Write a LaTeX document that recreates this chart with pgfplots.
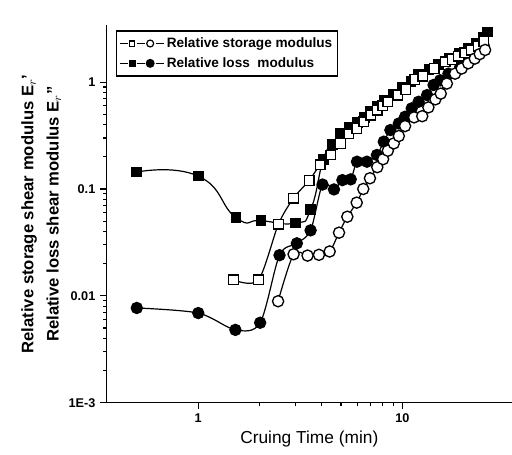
\documentclass[border=0pt]{standalone}
\usepackage{pgfplots}
\pgfplotsset{compat=1.18}
\usepackage{fontspec}
\setmainfont{Liberation Sans}

\begin{document}
\begin{tikzpicture}
\begin{axis}[
  scale only axis,
  width=304pt, height=283pt,
  xmode=log, ymode=log,
  xmin=0.356, xmax=34.4,
  ymin=1e-3, ymax=3.4,
  axis x line=bottom, axis y line=left,
  axis line style={-, line width=1pt},
  tick align=outside,
  major tick length=5pt, minor tick length=2.5pt,
  every tick/.style={black, line width=0.9pt},
  xtick={1,10}, xticklabels={1,10},
  ytick={1e-3,0.01,0.1,1}, yticklabels={1E-3,0.01,0.1,1},
  tick label style={font=\bfseries\fontsize{9.5}{11}\selectfont},
  /pgf/number format/assume math mode=true,
  xlabel={Cruing Time (min)},
  xlabel style={font=\fontsize{13}{15}\selectfont, yshift=1pt},
  ylabel={\begin{tabular}{c}Relative storage shear modulus E$_r$'\\[4pt] Relative loss shear modulus E$_r$''\end{tabular}},
  ylabel style={font=\bfseries\fontsize{12.5}{15}\selectfont, yshift=-4pt},
  legend style={at={(0.022,0.987)}, anchor=north west, draw=black, line width=1pt,
    font=\bfseries\fontsize{10.2}{12}\selectfont, row sep=2pt,
    inner xsep=2pt, inner ysep=3pt},
  legend cell align=left,
  every axis plot/.append style={black, line width=0.9pt, smooth},
]
\coordinate (ll) at (rel axis cs:0,0);
\coordinate (ur) at (rel axis cs:1,1);
% sample A loss (filled squares)
\addplot[mark=square*, mark options={fill=black}, mark size=3.6pt, tension=0.9, forget plot] coordinates {
  (0.5,0.144) (1.0,0.132) (1.53,0.054) (2.03,0.0506) (3.0,0.048) (3.55,0.064)
  (4.1,0.19) (4.54,0.262) (4.98,0.33) (5.5,0.38) (6.0,0.42) (6.5,0.47) (7.0,0.53)
  (7.5,0.59) (8.2,0.67) (9.0,0.76) (10.0,0.89) (11.0,1.02) (12.0,1.17) (13.5,1.32)
  (15.0,1.47) (17.0,1.67) (19.0,1.87) (21.0,2.05) (23.0,2.3) (25.0,2.6) (26.0,2.95)
};
% sample B loss (filled circles)
\addplot[mark=*, mark options={fill=black}, mark size=4.2pt, forget plot] coordinates {
  (0.5,0.0077) (1.0,0.0069) (1.52,0.0048) (2.01,0.0056) (2.5,0.024) (3.04,0.031)
  (3.55,0.041) (4.06,0.11) (4.62,0.099) (5.08,0.121) (5.58,0.123) (5.99,0.18)
  (6.7,0.18) (7.5,0.208) (8.1,0.277) (8.73,0.356) (9.6,0.41) (10.3,0.474)
  (11.1,0.568) (12.0,0.655) (13.2,0.756) (14.2,0.94) (15.3,1.04) (16.8,1.2)
  (19.2,1.39) (21.0,1.6) (23.2,1.85) (25.0,2.2)
};
% sample A storage (open squares)
\addplot[mark=square*, mark options={fill=white, line width=1pt}, mark size=3.6pt, forget plot] coordinates {
  (1.49,0.0141) (1.97,0.0141) (2.47,0.0468) (2.93,0.082) (3.49,0.12) (3.95,0.168)
  (4.45,0.208) (4.98,0.267) (5.47,0.327) (5.97,0.369) (6.47,0.426) (7.0,0.49)
  (7.53,0.547) (8.0,0.60) (8.48,0.655) (9.48,0.756) (10.4,0.855) (11.5,1.06)
  (12.6,1.14) (14.3,1.34) (16.2,1.55) (17.5,1.63) (18.8,1.75) (20.2,1.88)
  (21.8,1.99) (23.5,2.17) (25.0,2.40)
};
% sample B storage (open circles)
\addplot[mark=*, mark options={fill=white, line width=1pt}, mark size=4.2pt, forget plot] coordinates {
  (2.46,0.0089) (2.93,0.0245) (3.43,0.0238) (3.9,0.0242) (4.4,0.026) (4.89,0.039)
  (5.37,0.055) (5.97,0.0745) (6.43,0.100) (6.93,0.126) (7.53,0.160) (8.04,0.190)
  (8.48,0.228) (9.07,0.267) (9.6,0.313) (10.3,0.388) (11.4,0.468) (12.5,0.48)
  (13.4,0.58) (14.5,0.69) (15.4,0.78) (16.5,0.97) (18.1,1.20) (19.5,1.34)
  (21.0,1.50) (22.6,1.66) (23.9,1.83) (25.4,2.00)
};
\addlegendimage{legend image code/.code={
  \draw[black, line width=0.9pt] (0pt,0pt) -- (6pt,0pt) (13pt,0pt) -- (19pt,0pt) (27pt,0pt) -- (33pt,0pt);
  \draw[black, line width=0.9pt, fill=white] (7.5pt,-2.2pt) rectangle (11.5pt,1.8pt);
  \draw[black, line width=0.9pt, fill=white] (23pt,0pt) circle (2.6pt);}}
\addlegendentry{Relative storage modulus}
\addlegendimage{legend image code/.code={
  \draw[black, line width=0.9pt] (0pt,0pt) -- (6pt,0pt) (13pt,0pt) -- (19pt,0pt) (27pt,0pt) -- (33pt,0pt);
  \fill[black] (7.3pt,-2.2pt) rectangle (11.7pt,2.2pt);
  \fill[black] (23pt,0pt) circle (2.9pt);}}
\addlegendentry{Relative loss\ \ modulus}
\end{axis}
\pgfresetboundingbox
\useasboundingbox ([xshift=-80pt,yshift=-39pt]ll) rectangle ([yshift=19pt]ur);
\end{tikzpicture}
\end{document}
